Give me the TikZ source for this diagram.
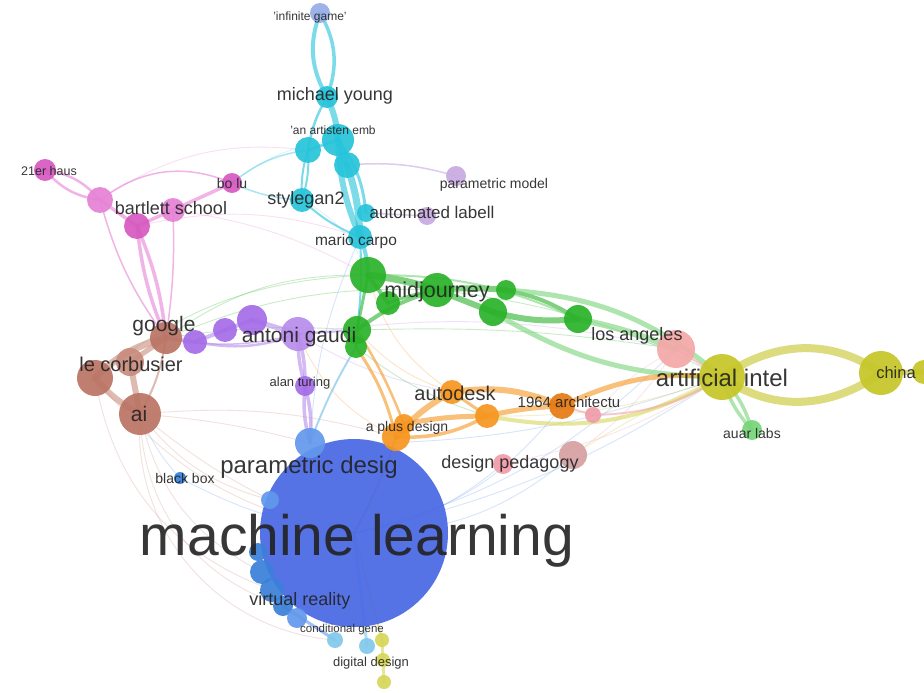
\documentclass[tikz,border=0pt]{standalone}
\usepackage{fontspec}
\setmainfont{Liberation Sans}
\pgfdeclarelayer{bg}
\pgfsetlayers{bg,main}
\definecolor{cyanN}{RGB}{38,196,218}
\definecolor{cyanL}{RGB}{110,214,232}
\definecolor{lavB}{RGB}{150,172,232}
\definecolor{magN}{RGB}{214,88,192}
\definecolor{pinkN}{RGB}{230,130,214}
\definecolor{brownN}{RGB}{186,116,100}
\definecolor{brownL}{RGB}{200,140,126}
\definecolor{purpN}{RGB}{164,108,232}
\definecolor{purpL}{RGB}{184,140,236}
\definecolor{greenN}{RGB}{42,178,42}
\definecolor{greenL}{RGB}{120,212,120}
\definecolor{orangeN}{RGB}{246,150,32}
\definecolor{orangeD}{RGB}{230,122,18}
\definecolor{salmonN}{RGB}{244,168,168}
\definecolor{rosyN}{RGB}{214,160,160}
\definecolor{pinkS}{RGB}{240,156,170}
\definecolor{yellowN}{RGB}{198,198,40}
\definecolor{yellowL}{RGB}{214,214,90}
\definecolor{blueN}{RGB}{72,104,228}
\definecolor{blueL}{RGB}{98,152,236}
\definecolor{blueS}{RGB}{58,128,218}
\definecolor{lightblue}{RGB}{130,200,236}
\definecolor{lavN}{RGB}{200,170,226}
\definecolor{labelc}{RGB}{34,34,34}
\tikzset{
  nd/.style={circle,inner sep=0pt,minimum size=2*#1 pt,fill opacity=0.92,draw=none},
  lbl/.style={font=\fontsize{#1}{#1}\selectfont,text=labelc,text opacity=0.9,inner sep=0pt},
  edg/.style={line cap=round,draw opacity=0.6,line width=#1},
  edg/.default=1,
  faint/.style={line cap=round,draw opacity=0.25,line width=0.9},
}
\begin{document}
\begin{tikzpicture}[x=1pt,y=-1pt]
\useasboundingbox (0,0) rectangle (924,693);
% ---------- nodes (circles) ----------
% blue cluster
\node[nd=94,fill=blueN] (ml) at (354,533) {};
\node[nd=15,fill=blueL] (pd) at (310,443) {};
\node[nd=9,fill=blueL] (pd2) at (270,500) {};
\node[nd=12,fill=blueS] (vr1) at (262,572) {};
\node[nd=12,fill=blueS] (vr2) at (272,590) {};
\node[nd=10,fill=blueS] (vr3) at (283,606) {};
\node[nd=10,fill=blueL] (vr4) at (297,618) {};
\node[nd=9,fill=blueS] (vr5) at (258,552) {};
\node[nd=6,fill=blueS] (bb) at (180,478) {};
\node[nd=8,fill=lightblue] (cg1) at (335,640) {};
\node[nd=8,fill=lightblue] (cg2) at (367,646) {};
\node[nd=7,fill=yellowL] (dd1) at (382,640) {};
\node[nd=7,fill=yellowL] (dd2) at (383,660) {};
\node[nd=7,fill=yellowL] (dd3) at (384,682) {};
% cyan cluster
\node[nd=10,fill=lavB] (inf) at (320,13) {};
\node[nd=11,fill=cyanN] (my) at (327,97) {};
\node[nd=13,fill=cyanN] (an1) at (308,150) {};
\node[nd=16,fill=cyanN] (an2) at (338,140) {};
\node[nd=13,fill=cyanN] (an3) at (347,165) {};
\node[nd=12,fill=cyanN] (sg) at (302,200) {};
\node[nd=9,fill=cyanN] (cy5) at (366,213) {};
\node[nd=12,fill=cyanN] (mc) at (360,237) {};
\node[nd=10,fill=lavN] (pm) at (456,176) {};
\node[nd=9,fill=lavN] (al) at (427,216) {};
% magenta cluster
\node[nd=11,fill=magN] (haus) at (45,170) {};
\node[nd=13,fill=pinkN] (pk1) at (100,200) {};
\node[nd=13,fill=magN] (bs1) at (137,226) {};
\node[nd=12,fill=pinkN] (bs2) at (173,210) {};
\node[nd=10,fill=magN] (bolu) at (232,183) {};
% brown cluster
\node[nd=16,fill=brownN] (gg) at (166,338) {};
\node[nd=18,fill=brownN] (lc1) at (95,378) {};
\node[nd=14,fill=brownL] (lc2) at (130,362) {};
\node[nd=21,fill=brownN] (ai) at (140,414) {};
% purple cluster
\node[nd=12,fill=purpN] (pu1) at (195,342) {};
\node[nd=12,fill=purpN] (pu2) at (225,330) {};
\node[nd=15,fill=purpN] (pu3) at (252,320) {};
\node[nd=17,fill=purpL] (gaudi) at (298,334) {};
\node[nd=10,fill=purpN] (tur) at (305,386) {};
% green cluster
\node[nd=18,fill=greenN] (g1) at (368,275) {};
\node[nd=12,fill=greenN] (g2) at (388,303) {};
\node[nd=17,fill=greenN] (midj) at (437,290) {};
\node[nd=10,fill=greenN] (g4) at (506,290) {};
\node[nd=14,fill=greenN] (g5) at (493,312) {};
\node[nd=14,fill=greenN] (g6) at (578,319) {};
\node[nd=14,fill=greenN] (g7) at (357,330) {};
\node[nd=11,fill=greenN] (g8) at (356,347) {};
\node[nd=10,fill=greenL] (auar) at (752,430) {};
% orange cluster
\node[nd=14,fill=orangeN] (apd) at (396,437) {};
\node[nd=10,fill=orangeN] (apd2) at (404,424) {};
\node[nd=12,fill=orangeN] (ad) at (452,392) {};
\node[nd=12,fill=orangeN] (ad2) at (487,416) {};
\node[nd=13,fill=orangeD] (arc) at (562,406) {};
% salmon cluster
\node[nd=19,fill=salmonN] (la) at (676,349) {};
\node[nd=8,fill=pinkS] (ps) at (593,415) {};
\node[nd=10,fill=pinkS] (dp1) at (503,464) {};
\node[nd=14,fill=rosyN] (dp2) at (573,455) {};
% yellow cluster
\node[nd=23,fill=yellowN] (aint) at (722,377) {};
\node[nd=22,fill=yellowN] (china) at (881,373) {};
\node[nd=12,fill=yellowN] (ch2) at (924,372) {};
% ---------- edges ----------
\begin{pgfonlayer}{bg}
\fill[white] (0,0) rectangle (924,693);
% faint long-range edges
\draw[faint,draw=brownL] (ai.center) to[bend right=10] (ml.center);
\draw[faint,draw=brownL] (ai.center) to[bend right=25] (vr1.center);
\draw[faint,draw=brownL] (ai.center) to[bend right=35] (vr3.center);
\draw[faint,draw=brownL] (ai.center) to[bend left=5] (pd.center);
\draw[faint,draw=brownL] (ai.center) to[bend left=10] (apd.center);
\draw[faint,draw=brownL] (ai.center) to[bend right=45] (cg1.center);
\draw[faint,draw=brownL] (ai.center) to[bend right=18] (pd2.center);
\draw[faint,draw=brownL] (lc1.center) to[bend right=30] (vr2.center);
\draw[faint,draw=brownL] (lc1.center) to[bend right=20] (ml.center);
\draw[faint,draw=blueL] (bb.center) to[bend right=10] (ml.center);
\draw[faint,draw=blueL] (bb.center) to[bend left=10] (ai.center);
\draw[faint,draw=greenN] (gg.center) to[bend left=12] (midj.center);
\draw[faint,draw=greenN] (gg.center) to[bend left=18] (g1.center);
\draw[faint,draw=greenN] (gg.center) to[bend left=6] (g7.center);
\draw[faint,draw=greenN] (lc1.center) to[bend left=18] (g1.center);
\draw[faint,draw=pinkN] (bs1.center) to[bend left=15] (mc.center);
\draw[faint,draw=pinkN] (pk1.center) to[bend left=20] (an1.center);
\draw[faint,draw=pinkN] (bs2.center) to[bend left=10] (g1.center);
\draw[faint,draw=cyanL] (bolu.center) to[bend left=15] (an2.center);
\draw[faint,draw=cyanL] (sg.center) to[bend left=20] (g1.center);
\draw[faint,draw=purpL] (gaudi.center) to[bend left=10] (la.center);
\draw[faint,draw=purpL] (gaudi.center) to[bend right=10] (ad.center);
\draw[faint,draw=blueL] (ml.center) to[bend right=15] (dp1.center);
\draw[faint,draw=blueL] (ml.center) to[bend right=20] (dp2.center);
\draw[faint,draw=blueL] (ml.center) to[bend right=20] (arc.center);
\draw[faint,draw=blueL] (ml.center) to[bend right=15] (la.center);
\draw[faint,draw=blueL] (ml.center) to[bend right=10] (aint.center);
\draw[faint,draw=blueL] (pd.center) to[bend right=10] (aint.center);
\draw[faint,draw=blueL] (pd.center) to[bend left=5] (g8.center);
\draw[faint,draw=blueL] (pd.center) to[bend left=10] (mc.center);
\draw[faint,draw=pinkS] (dp1.center) to[bend right=10] (aint.center);
\draw[faint,draw=pinkS] (dp2.center) to[bend right=10] (la.center);
\draw[faint,draw=greenN] (g7.center) to[bend left=5] (la.center);
\draw[faint,draw=greenN] (g8.center) to[bend right=10] (ad2.center);
\draw[faint,draw=orangeN] (g7.center) to[bend right=15] (ad.center);
\draw[faint,draw=orangeN] (g1.center) to[bend right=20] (ad.center);
\draw[faint,draw=orangeN] (gaudi.center) to[bend right=20] (apd.center);
\draw[faint,draw=yellowN] (ad2.center) to[bend right=10] (aint.center);
\draw[faint,draw=yellowN] (dp2.center) to[bend left=5] (aint.center);
\draw[faint,draw=salmonN] (ps.center) to[bend left=10] (la.center);
\draw[faint,draw=greenN] (midj.center) to[bend left=10] (aint.center);
% cyan
\draw[edg=4,draw=cyanN] (inf.center) to[bend right=25] (my.center);
\draw[edg=3.5,draw=cyanN] (inf.center) to[bend left=25] (my.center);
\draw[edg=6,draw=cyanN] (my.center) to[bend left=10] (an2.center);
\draw[edg=2.5,draw=cyanN] (my.center) to[bend right=10] (an1.center);
\draw[edg=3,draw=cyanN] (an1.center) to (an2.center);
\draw[edg=6,draw=cyanN] (an2.center) to (an3.center);
\draw[edg=7,draw=cyanN] (an3.center) to[bend left=8] (mc.center);
\draw[edg=6,draw=cyanN] (an2.center) to[bend right=10] (mc.center);
\draw[edg=3,draw=cyanN] (an2.center) to[bend left=15] (cy5.center);
\draw[edg=2,draw=cyanN] (an1.center) to[bend right=10] (sg.center);
\draw[edg=2,draw=cyanN] (sg.center) to[bend right=10] (mc.center);
\draw[edg=2,draw=cyanN] (an1.center) to[bend left=10] (sg.center);
\draw[edg=1.5,draw=cyanL] (sg.center) to[bend left=10] (bolu.center);
\draw[edg=1.5,draw=cyanL] (an1.center) to[bend right=15] (bolu.center);
\draw[edg=4,draw=cyanN] (mc.center) to[bend left=10] (g1.center);
\draw[edg=2,draw=cyanN] (mc.center) to[bend left=5] (g7.center);
\draw[edg=1.5,draw=lavN] (cy5.center) to (al.center);
\draw[edg=1.5,draw=lavN] (an3.center) to[bend left=10] (pm.center);
\draw[edg=2,draw=lightblue] (g8.center) to[bend right=5] (pd.center);
% magenta
\draw[edg=2.5,draw=pinkN] (haus.center) to[bend left=20] (pk1.center);
\draw[edg=2.5,draw=pinkN] (haus.center) to[bend right=20] (pk1.center);
\draw[edg=3.5,draw=pinkN] (pk1.center) to (bs1.center);
\draw[edg=3.5,draw=pinkN] (bs1.center) to (bs2.center);
\draw[edg=3.5,draw=pinkN] (bs2.center) to (bolu.center);
\draw[edg=1.5,draw=pinkN] (pk1.center) to[bend left=30] (bolu.center);
\draw[edg=3.5,draw=pinkN] (bs1.center) to[bend right=8] (gg.center);
\draw[edg=3.5,draw=pinkN] (bs1.center) to[bend left=8] (gg.center);
\draw[edg=1.5,draw=pinkN] (pk1.center) to[bend right=10] (gg.center);
\draw[edg=1.5,draw=pinkN] (bs2.center) to[bend left=5] (gg.center);
% brown
\draw[edg=7,draw=brownL] (gg.center) to[bend right=15] (lc1.center);
\draw[edg=6,draw=brownL] (lc1.center) to[bend right=10] (ai.center);
\draw[edg=6,draw=brownL] (lc2.center) to (ai.center);
\draw[edg=5,draw=brownL] (gg.center) to (lc2.center);
\draw[edg=2,draw=brownL] (gg.center) to[bend left=10] (ai.center);
% purple
\draw[edg=4,draw=purpL] (gg.center) to (pu1.center);
\draw[edg=4,draw=purpL] (pu1.center) to (pu2.center);
\draw[edg=4,draw=purpL] (pu2.center) to (pu3.center);
\draw[edg=5,draw=purpL] (pu3.center) to (gaudi.center);
\draw[edg=2.5,draw=purpL] (pu1.center) to[bend right=15] (gaudi.center);
\draw[edg=1.5,draw=purpL] (gg.center) to[bend right=12] (gaudi.center);
\draw[edg=3.5,draw=purpL] (gaudi.center) to[bend right=8] (tur.center);
\draw[edg=3.5,draw=purpL] (gaudi.center) to[bend left=8] (tur.center);
\draw[edg=3.5,draw=purpL] (tur.center) to[bend right=10] (pd.center);
\draw[edg=3.5,draw=purpL] (tur.center) to[bend left=10] (pd.center);
\draw[edg=2,draw=purpL] (gaudi.center) to (g7.center);
% green
\draw[edg=7,draw=greenN] (g1.center) to[bend left=5] (midj.center);
\draw[edg=4,draw=greenN] (g1.center) to (g2.center);
\draw[edg=3,draw=greenN] (g2.center) to[bend left=5] (midj.center);
\draw[edg=4,draw=greenN] (g7.center) to[bend left=10] (midj.center);
\draw[edg=3,draw=greenN] (g7.center) to (g1.center);
\draw[edg=3,draw=greenN] (g7.center) to (g8.center);
\draw[edg=6,draw=greenN] (midj.center) to[bend left=5] (g4.center);
\draw[edg=6,draw=greenN] (midj.center) to (g5.center);
\draw[edg=6,draw=greenN] (g5.center) to[bend right=10] (g6.center);
\draw[edg=4,draw=greenN] (g4.center) to[bend left=10] (g6.center);
\draw[edg=6,draw=greenL] (g6.center) to[bend left=5] (la.center);
\draw[edg=5,draw=greenL] (g5.center) to[bend right=15] (aint.center);
\draw[edg=5,draw=greenL] (g4.center) to[bend left=18] (aint.center);
\draw[edg=2,draw=greenL] (g1.center) to[bend left=12] (g6.center);
\draw[edg=3.5,draw=greenL] (aint.center) to[bend right=12] (auar.center);
\draw[edg=3.5,draw=greenL] (aint.center) to[bend left=12] (auar.center);
% orange
\draw[edg=6,draw=orangeN] (apd.center) to[bend left=10] (ad.center);
\draw[edg=5,draw=orangeN] (apd2.center) to[bend left=5] (ad2.center);
\draw[edg=6,draw=orangeN] (ad.center) to[bend left=15] (arc.center);
\draw[edg=5,draw=orangeN] (ad2.center) to[bend left=5] (arc.center);
\draw[edg=3,draw=orangeN] (ad.center) to (ad2.center);
\draw[edg=3.5,draw=orangeN] (apd.center) to[bend right=15] (ad2.center);
\draw[edg=3,draw=orangeN] (g8.center) to[bend left=10] (apd.center);
\draw[edg=2.5,draw=orangeN] (g7.center) to[bend left=5] (apd2.center);
\draw[edg=2,draw=orangeN] (apd.center) to[bend left=5] (ml.center);
\draw[edg=5,draw=orangeN] (arc.center) to[bend left=15] (aint.center);
\draw[edg=4,draw=yellowL] (ad2.center) to[bend right=20] (aint.center);
\draw[edg=2,draw=salmonN] (arc.center) to (ps.center);
\draw[edg=2,draw=salmonN] (ps.center) to[bend right=15] (aint.center);
\draw[edg=2.5,draw=salmonN] (la.center) to (aint.center);
% yellow
\draw[edg=8,draw=yellowN] (aint.center) to[out=35,in=145] (china.center);
\draw[edg=8,draw=yellowN] (aint.center) to[out=-35,in=-145] (china.center);
\draw[edg=5,draw=yellowN] (china.center) to (ch2.center);
% blue lower
\draw[edg=3,draw=blueL] (vr3.center) to (cg1.center);
\draw[edg=3,draw=lightblue] (ml.center) to (cg2.center);
\draw[edg=3,draw=yellowL] (dd1.center) to (dd2.center);
\draw[edg=3,draw=yellowL] (dd2.center) to (dd3.center);
\draw[edg=2,draw=yellowL] (ml.center) to (dd1.center);
\end{pgfonlayer}
% ---------- labels ----------
\node[lbl=12] (t1) at (310,17) {'infinite game'};
\node[lbl=18] (t2) at (335,96) {michael young};
\node[lbl=12] (t3) at (333,130) {'an artisten emb};
\node[lbl=18] (t4) at (306,200) {stylegan2};
\node[lbl=14] (t5) at (494,185) {parametric model};
\node[lbl=17] (t6) at (432,212) {automated labell};
\node[lbl=15.5] (t7) at (356,241) {mario carpo};
\node[lbl=12.5] (t8) at (49,171) {21er haus};
\node[lbl=14] (t9) at (232,183) {bo lu};
\node[lbl=18] (t10) at (171,208) {bartlett school};
\node[lbl=21] (t11) at (164,326) {google};
\node[lbl=20] (t12) at (131,364) {le corbusier};
\node[lbl=21] (t13) at (139,414) {ai};
\node[lbl=21] (t14) at (299,337) {antoni gaudi};
\node[lbl=13] (t15) at (300,383) {alan turing};
\node[lbl=21.5] (t16) at (437,292) {midjourney};
\node[lbl=18] (t17) at (637,336) {los angeles};
\node[lbl=24] (t18) at (722,378) {artificial intel};
\node[lbl=16.5] (t19) at (896,373) {china};
\node[lbl=14] (t20) at (752,433) {auar labs};
\node[lbl=20] (t21) at (455,393) {autodesk};
\node[lbl=15] (t22) at (569,402) {1964 architectu};
\node[lbl=14] (t23) at (407,428) {a plus design};
\node[lbl=18] (t24) at (510,464) {design pedagogy};
\node[lbl=24] (t25) at (309,467) {parametric desig};
\node[lbl=14] (t26) at (185,478) {black box};
\node[lbl=57] (t27) at (357,541) {machine learning};
\node[lbl=18] (t28) at (300,601) {virtual reality};
\node[lbl=11.5] (t29) at (342,630) {conditional gene};
\node[lbl=13] (t30) at (371,663) {digital design};
\end{tikzpicture}
\end{document}
